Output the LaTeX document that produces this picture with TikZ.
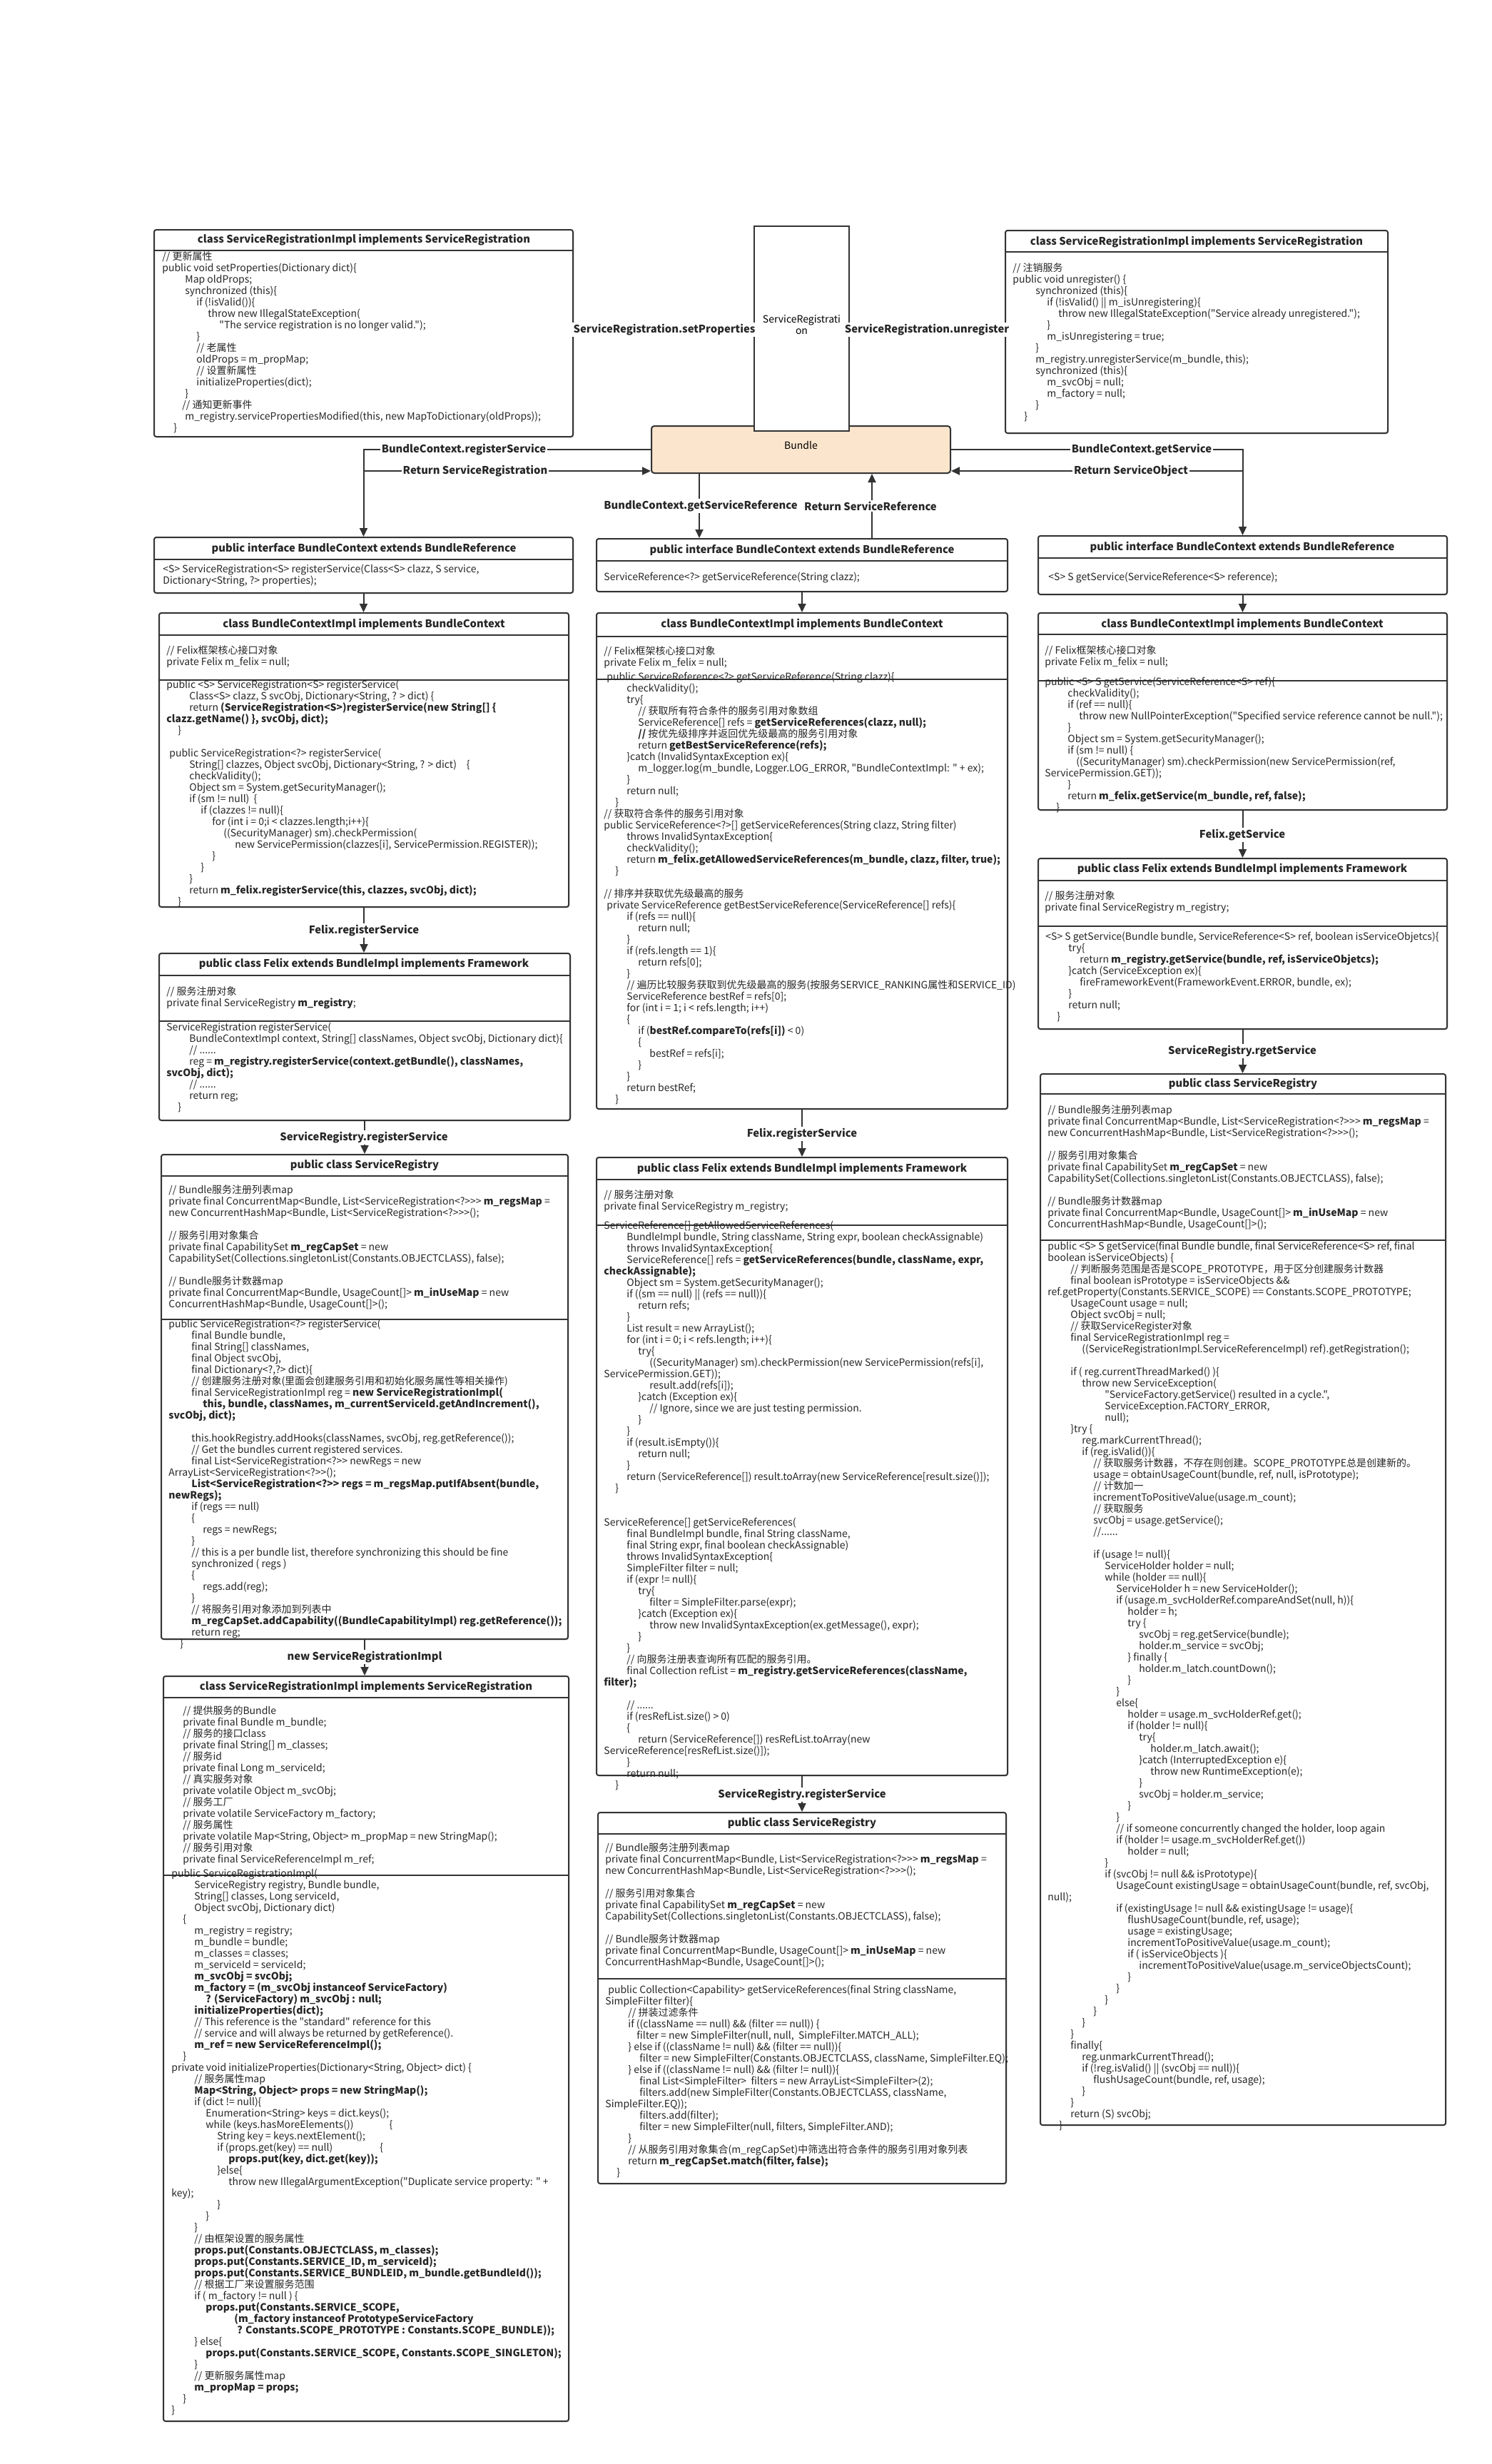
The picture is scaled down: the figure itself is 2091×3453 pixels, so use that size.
\documentclass[tikz,border=0pt]{standalone}
\usepackage{fontspec}
\newfontfamily\cjksans{Noto Sans CJK SC}
\usetikzlibrary{arrows.meta,fit,shadows}
\definecolor{linegray}{HTML}{333333}
\definecolor{bundlefill}{HTML}{FCE5CD}
\newlength{\tabw}
\setlength{\tabw}{8pt}
\newcommand{\tb}[1]{\hspace*{#1\tabw}}
\newcommand{\codefont}{\cjksans\fontsize{7pt}{8pt}\selectfont}
\newcommand{\headfont}{\cjksans\bfseries\fontsize{7.4pt}{8pt}\selectfont}
% frame of a class box: name, left, top, right, bottom, divider rows
\newcommand{\classframe}[6]{%
  \node[classbox, fit={(#2,#3) (#4,#5)}] (#1) {};
  \foreach \dy in {#6} {\draw[divider] (#2,\dy) -- (#4,\dy);}
}
\tikzset{
  classbox/.style={draw=linegray, line width=1pt, fill=white, rounded corners=1.5pt, inner sep=0pt,
    drop shadow={shadow xshift=0.7pt, shadow yshift=-0.7pt, opacity=0.25}},
  divider/.style={draw=linegray, line width=1pt},
  headtext/.style={font=\headfont, text=black!85, inner sep=0pt},
  codetext/.style={font=\codefont, text=black!85, align=left, inner sep=0pt, anchor=north west,
    execute at begin node={\rule{0pt}{7pt}}},
  flowlabel/.style={font=\headfont, text=black!85, fill=white, inner sep=1pt},
  callflow/.style={draw=linegray, line width=1pt, -{Triangle[length=6pt,width=5.5pt]}},
}
\begin{document}
\catcode`\_=12\relax
\begin{tikzpicture}[x=0.5pt, y=-0.5pt]
\fill[white] (0,0) rectangle (2091,3453);
\useasboundingbox (0,0) rectangle (2091,3453);

% ---------- top row ----------
\node[draw=linegray, line width=1pt, fill=bundlefill, rounded corners=2pt, inner sep=0pt,
  fit={(913,597) (1332,663)}, font=\codefont] (bundle) {Bundle};
\node[draw=linegray, line width=1pt, fill=white, inner sep=0pt, fit={(1057,317) (1190,604)},
  font=\codefont, align=center] (srbox) {ServiceRegistrati\\on};

\classframe{tlsr}{216}{322}{803}{612}{351}
\node[headtext] (tlsr-title) at (510,336) {class ServiceRegistrationImpl implements ServiceRegistration};
\node[codetext] (tlsr-body) at (227,352) {// 更新属性\\
public void setProperties(Dictionary dict)\{\\
\tb{2}Map oldProps;\\
\tb{2}synchronized (this)\{\\
\tb{3}if (!isValid())\{\\
\tb{4}throw new IllegalStateException(\\
\tb{5}"The service registration is no longer valid.");\\
\tb{3}\}\\
\tb{3}// 老属性\\
\tb{3}oldProps = m_propMap;\\
\tb{3}// 设置新属性\\
\tb{3}initializeProperties(dict);\\
\tb{2}\}\\
\tb{1.75}// 通知更新事件\\
\tb{2}m_registry.servicePropertiesModified(this, new MapToDictionary(oldProps));\\
\tb{1}\}};

\classframe{trsr}{1409}{323}{1945}{607}{353}
\node[headtext] (trsr-title) at (1677,339) {class ServiceRegistrationImpl implements ServiceRegistration};
\node[codetext] (trsr-body) at (1419,368) {// 注销服务\\
public void unregister() \{\\
\tb{2}synchronized (this)\{\\
\tb{3}if (!isValid() || m_isUnregistering)\{\\
\tb{4}throw new IllegalStateException("Service already unregistered.");\\
\tb{3}\}\\
\tb{3}m_isUnregistering = true;\\
\tb{2}\}\\
\tb{2}m_registry.unregisterService(m_bundle, this);\\
\tb{2}synchronized (this)\{\\
\tb{3}m_svcObj = null;\\
\tb{3}m_factory = null;\\
\tb{2}\}\\
\tb{1}\}};

% ---------- left column: registerService ----------
\classframe{ltif}{216}{753}{803}{831}{784}
\node[headtext] (ltif-title) at (510,769) {public interface BundleContext extends BundleReference};
\node[codetext] (ltif-body) at (228,791) {<S> ServiceRegistration<S> registerService(Class<S> clazz, S service,\\
Dictionary<String, ?> properties);};

\classframe{ltbc}{223}{859}{797}{1271}{890,953}
\node[headtext] (ltbc-title) at (510,875) {class BundleContextImpl implements BundleContext};
\node[codetext] (ltbc-attr) at (233,904) {// Felix框架核心接口对象\\
private Felix m_felix = null;};
\node[codetext] (ltbc-ops) at (233,953) {public <S> ServiceRegistration<S> registerService(\\
\tb{2}Class<S> clazz, S svcObj, Dictionary<String, ? > dict) \{\\
\tb{2}return \textbf{(ServiceRegistration<S>)registerService(new String[] \{}\\
\textbf{clazz.getName() \}, svcObj, dict);}\\
\tb{1}\}\\[8pt]
\tb{0.25}public ServiceRegistration<?> registerService(\\
\tb{2}String[] clazzes, Object svcObj, Dictionary<String, ? > dict)\quad\{\\
\tb{2}checkValidity();\\
\tb{2}Object sm = System.getSecurityManager();\\
\tb{2}if (sm != null)\ \ \{\\
\tb{3}if (clazzes != null)\{\\
\tb{4}for (int i = 0;i < clazzes.length;i++)\{\\
\tb{5}((SecurityManager) sm).checkPermission(\\
\tb{6}new ServicePermission(clazzes[i], ServicePermission.REGISTER));\\
\tb{4}\}\\
\tb{3}\}\\
\tb{2}\}\\
\tb{2}return \textbf{m_felix.registerService(this, clazzes, svcObj, dict);}\\
\tb{1}\}};

\classframe{ltfx}{223}{1336}{799}{1570}{1367,1431}
\node[headtext] (ltfx-title) at (510,1351) {public class Felix extends BundleImpl implements Framework};
\node[codetext] (ltfx-attr) at (233,1382) {// 服务注册对象\\
private final ServiceRegistry \textbf{m_registry};};
\node[codetext] (ltfx-ops) at (233,1433) {ServiceRegistration registerService(\\
\tb{2}BundleContextImpl context, String[] classNames, Object svcObj, Dictionary dict)\{\\
\tb{2}// ......\\
\tb{2}reg = \textbf{m_registry.registerService(context.getBundle(), classNames,}\\
\textbf{svcObj, dict);}\\
\tb{2}// ......\\
\tb{2}return reg;\\
\tb{1}\}};

\classframe{ltsr}{226}{1618}{796}{2297}{1648,1849}
\node[headtext] (ltsr-title) at (511,1633) {public class ServiceRegistry};
\node[codetext] (ltsr-attr) at (236,1660) {// Bundle服务注册列表map\\
private final ConcurrentMap<Bundle, List<ServiceRegistration<?>>> \textbf{m_regsMap} =\\
new ConcurrentHashMap<Bundle, List<ServiceRegistration<?>>>();\\[8pt]
// 服务引用对象集合\\
private final CapabilitySet \textbf{m_regCapSet} = new\\
CapabilitySet(Collections.singletonList(Constants.OBJECTCLASS), false);\\[8pt]
// Bundle服务计数器map\\
private final ConcurrentMap<Bundle, UsageCount[]> \textbf{m_inUseMap} = new\\
ConcurrentHashMap<Bundle, UsageCount[]>();};
\node[codetext] (ltsr-ops) at (236,1849) {public ServiceRegistration<?> registerService(\\
\tb{2}final Bundle bundle,\\
\tb{2}final String[] classNames,\\
\tb{2}final Object svcObj,\\
\tb{2}final Dictionary<?,?> dict)\{\\
\tb{2}// 创建服务注册对象(里面会创建服务引用和初始化服务属性等相关操作)\\
\tb{2}final ServiceRegistrationImpl reg = \textbf{new ServiceRegistrationImpl(}\\
\tb{3}\textbf{this, bundle, classNames, m_currentServiceId.getAndIncrement(),}\\
\textbf{svcObj, dict);}\\[8pt]
\tb{2}this.hookRegistry.addHooks(classNames, svcObj, reg.getReference());\\
\tb{2}// Get the bundles current registered services.\\
\tb{2}final List<ServiceRegistration<?>> newRegs = new\\
ArrayList<ServiceRegistration<?>>();\\
\tb{2}\textbf{List<ServiceRegistration<?>> regs = m_regsMap.putIfAbsent(bundle,}\\
\textbf{newRegs);}\\
\tb{2}if (regs == null)\\
\tb{2}\{\\
\tb{3}regs = newRegs;\\
\tb{2}\}\\
\tb{2}// this is a per bundle list, therefore synchronizing this should be fine\\
\tb{2}synchronized ( regs )\\
\tb{2}\{\\
\tb{3}regs.add(reg);\\
\tb{2}\}\\
\tb{2}// 将服务引用对象添加到列表中\\
\tb{2}\textbf{m_regCapSet.addCapability((BundleCapabilityImpl) reg.getReference());}\\
\tb{2}return reg;\\
\tb{1}\}};

\classframe{ltri}{229}{2349}{797}{3393}{2379,2628}
\node[headtext] (ltri-title) at (513,2364) {class ServiceRegistrationImpl implements ServiceRegistration};
\node[codetext] (ltri-attr) at (256,2390) {// 提供服务的Bundle\\
private final Bundle m_bundle;\\
// 服务的接口class\\
private final String[] m_classes;\\
// 服务id\\
private final Long m_serviceId;\\
// 真实服务对象\\
private volatile Object m_svcObj;\\
// 服务工厂\\
private volatile ServiceFactory m_factory;\\
// 服务属性\\
private volatile Map<String, Object> m_propMap = new StringMap();\\
// 服务引用对象\\
private final ServiceReferenceImpl m_ref;};
\node[codetext] (ltri-ops) at (240,2619) {public ServiceRegistrationImpl(\\
\tb{2}ServiceRegistry registry, Bundle bundle,\\
\tb{2}String[] classes, Long serviceId,\\
\tb{2}Object svcObj, Dictionary dict)\\
\tb{1}\{\\
\tb{2}m_registry = registry;\\
\tb{2}m_bundle = bundle;\\
\tb{2}m_classes = classes;\\
\tb{2}m_serviceId = serviceId;\\
\tb{2}\textbf{m_svcObj = svcObj;}\\
\tb{2}\textbf{m_factory = (m_svcObj instanceof ServiceFactory)}\\
\tb{3}\textbf{? (ServiceFactory) m_svcObj : null;}\\
\tb{2}\textbf{initializeProperties(dict);}\\
\tb{2}// This reference is the "standard" reference for this\\
\tb{2}// service and will always be returned by getReference().\\
\tb{2}\textbf{m_ref = new ServiceReferenceImpl();}\\
\tb{1}\}\\
private void initializeProperties(Dictionary<String, Object> dict) \{\\
\tb{2}// 服务属性map\\
\tb{2}\textbf{Map<String, Object> props = new StringMap();}\\
\tb{2}if (dict != null)\{\\
\tb{3}Enumeration<String> keys = dict.keys();\\
\tb{3}while (keys.hasMoreElements())\hspace{25pt}\{\\
\tb{4}String key = keys.nextElement();\\
\tb{4}if (props.get(key) == null)\hspace{33pt}\{\\
\tb{5}\textbf{props.put(key, dict.get(key));}\\
\tb{4}\}else\{\\
\tb{5}throw new IllegalArgumentException("Duplicate service property: " +\\
key);\\
\tb{4}\}\\
\tb{3}\}\\
\tb{2}\}\\
\tb{2}// 由框架设置的服务属性\\
\tb{2}\textbf{props.put(Constants.OBJECTCLASS, m_classes);}\\
\tb{2}\textbf{props.put(Constants.SERVICE_ID, m_serviceId);}\\
\tb{2}\textbf{props.put(Constants.SERVICE_BUNDLEID, m_bundle.getBundleId());}\\
\tb{2}// 根据工厂来设置服务范围\\
\tb{2}if ( m_factory != null ) \{\\
\tb{3}\textbf{props.put(Constants.SERVICE_SCOPE,}\\
\tb{5.5}\textbf{(m_factory instanceof PrototypeServiceFactory}\\
\tb{5.75}\textbf{? Constants.SCOPE_PROTOTYPE : Constants.SCOPE_BUNDLE));}\\
\tb{2}\} else\{\\
\tb{3}\textbf{props.put(Constants.SERVICE_SCOPE, Constants.SCOPE_SINGLETON);}\\
\tb{2}\}\\
\tb{2}// 更新服务属性map\\
\tb{2}\textbf{m_propMap = props;}\\
\tb{1}\}\\
\}};

% ---------- middle column: getServiceReference ----------
\classframe{mdif}{836}{755}{1412}{829}{786}
\node[headtext] (mdif-title) at (1124,771) {public interface BundleContext extends BundleReference};
\node[codetext] (mdif-body) at (846,799) {ServiceReference<?> getServiceReference(String clazz);};

\classframe{mdbc}{836}{859}{1412}{1554}{892,952}
\node[headtext] (mdbc-title) at (1124,875) {class BundleContextImpl implements BundleContext};
\node[codetext] (mdbc-attr) at (846,905) {// Felix框架核心接口对象\\
private Felix m_felix = null;};
\node[codetext] (mdbc-ops) at (846,942) {\tb{0.25}public ServiceReference<?> getServiceReference(String clazz)\{\\
\tb{2}checkValidity();\\
\tb{2}try\{\\
\tb{3}// 获取所有符合条件的服务引用对象数组\\
\tb{3}ServiceReference[] refs = \textbf{getServiceReferences(clazz, null);}\\
\tb{3}\textbf{//} 按优先级排序并返回优先级最高的服务引用对象\\
\tb{3}return \textbf{getBestServiceReference(refs);}\\
\tb{2}\}catch (InvalidSyntaxException ex)\{\\
\tb{3}m_logger.log(m_bundle, Logger.LOG_ERROR, "BundleContextImpl: " + ex);\\
\tb{2}\}\\
\tb{2}return null;\\
\tb{1}\}\\
// 获取符合条件的服务引用对象\\
public ServiceReference<?>[] getServiceReferences(String clazz, String filter)\\
\tb{2}throws InvalidSyntaxException\{\\
\tb{2}checkValidity();\\
\tb{2}return \textbf{m_felix.getAllowedServiceReferences(m_bundle, clazz, filter, true);}\\
\tb{1}\}\\[8pt]
// 排序并获取优先级最高的服务\\
\tb{0.25}private ServiceReference getBestServiceReference(ServiceReference[] refs)\{\\
\tb{2}if (refs == null)\{\\
\tb{3}return null;\\
\tb{2}\}\\
\tb{2}if (refs.length == 1)\{\\
\tb{3}return refs[0];\\
\tb{2}\}\\
\tb{2}// 遍历比较服务获取到优先级最高的服务(按服务SERVICE_RANKING属性和SERVICE_ID)\\
\tb{2}ServiceReference bestRef = refs[0];\\
\tb{2}for (int i = 1; i < refs.length; i++)\\
\tb{2}\{\\
\tb{3}if (\textbf{bestRef.compareTo(refs[i])} < 0)\\
\tb{3}\{\\
\tb{4}bestRef = refs[i];\\
\tb{3}\}\\
\tb{2}\}\\
\tb{2}return bestRef;\\
\tb{1}\}};

\classframe{mdfx}{836}{1622}{1412}{2488}{1653,1717}
\node[headtext] (mdfx-title) at (1124,1638) {public class Felix extends BundleImpl implements Framework};
\node[codetext] (mdfx-attr) at (846,1667) {// 服务注册对象\\
private final ServiceRegistry m_registry;};
\node[codetext] (mdfx-ops) at (846,1711) {ServiceReference[] getAllowedServiceReferences(\\
\tb{2}BundleImpl bundle, String className, String expr, boolean checkAssignable)\\
\tb{2}throws InvalidSyntaxException\{\\
\tb{2}ServiceReference[] refs = \textbf{getServiceReferences(bundle, className, expr,}\\
\textbf{checkAssignable);}\\
\tb{2}Object sm = System.getSecurityManager();\\
\tb{2}if ((sm == null) || (refs == null))\{\\
\tb{3}return refs;\\
\tb{2}\}\\
\tb{2}List result = new ArrayList();\\
\tb{2}for (int i = 0; i < refs.length; i++)\{\\
\tb{3}try\{\\
\tb{4}((SecurityManager) sm).checkPermission(new ServicePermission(refs[i],\\
ServicePermission.GET));\\
\tb{4}result.add(refs[i]);\\
\tb{3}\}catch (Exception ex)\{\\
\tb{4}// Ignore, since we are just testing permission.\\
\tb{3}\}\\
\tb{2}\}\\
\tb{2}if (result.isEmpty())\{\\
\tb{3}return null;\\
\tb{2}\}\\
\tb{2}return (ServiceReference[]) result.toArray(new ServiceReference[result.size()]);\\
\tb{1}\}\\[16pt]
ServiceReference[] getServiceReferences(\\
\tb{2}final BundleImpl bundle, final String className,\\
\tb{2}final String expr, final boolean checkAssignable)\\
\tb{2}throws InvalidSyntaxException\{\\
\tb{2}SimpleFilter filter = null;\\
\tb{2}if (expr != null)\{\\
\tb{3}try\{\\
\tb{4}filter = SimpleFilter.parse(expr);\\
\tb{3}\}catch (Exception ex)\{\\
\tb{4}throw new InvalidSyntaxException(ex.getMessage(), expr);\\
\tb{3}\}\\
\tb{2}\}\\
\tb{2}// 向服务注册表查询所有匹配的服务引用。\\
\tb{2}final Collection refList = \textbf{m_registry.getServiceReferences(className,}\\
\textbf{filter);}\\[8pt]
\tb{2}// ......\\
\tb{2}if (resRefList.size() > 0)\\
\tb{2}\{\\
\tb{3}return (ServiceReference[]) resRefList.toArray(new\\
ServiceReference[resRefList.size()]);\\
\tb{2}\}\\
\tb{2}return null;\\
\tb{1}\}};

\classframe{mdsr}{838}{2540}{1410}{3060}{2570,2773}
\node[headtext] (mdsr-title) at (1124,2555) {public class ServiceRegistry};
\node[codetext] (mdsr-attr) at (848,2582) {// Bundle服务注册列表map\\
private final ConcurrentMap<Bundle, List<ServiceRegistration<?>>> \textbf{m_regsMap} =\\
new ConcurrentHashMap<Bundle, List<ServiceRegistration<?>>>();\\[8pt]
// 服务引用对象集合\\
private final CapabilitySet \textbf{m_regCapSet} = new\\
CapabilitySet(Collections.singletonList(Constants.OBJECTCLASS), false);\\[8pt]
// Bundle服务计数器map\\
private final ConcurrentMap<Bundle, UsageCount[]> \textbf{m_inUseMap} = new\\
ConcurrentHashMap<Bundle, UsageCount[]>();};
\node[codetext] (mdsr-ops) at (848,2782) {\tb{0.25}public Collection<Capability> getServiceReferences(final String className,\\
SimpleFilter filter)\{\\
\tb{2}// 拼装过滤条件\\
\tb{2}if ((className == null) \&\& (filter == null)) \{\\
\tb{2.75}filter = new SimpleFilter(null, null,\ \ SimpleFilter.MATCH_ALL);\\
\tb{2}\} else if ((className != null) \&\& (filter == null))\{\\
\tb{3}filter = new SimpleFilter(Constants.OBJECTCLASS, className, SimpleFilter.EQ);\\
\tb{2}\} else if ((className != null) \&\& (filter != null))\{\\
\tb{3}final List<SimpleFilter>\ \ filters = new ArrayList<SimpleFilter>(2);\\
\tb{3}filters.add(new SimpleFilter(Constants.OBJECTCLASS, className,\\
SimpleFilter.EQ));\\
\tb{3}filters.add(filter);\\
\tb{3}filter = new SimpleFilter(null, filters, SimpleFilter.AND);\\
\tb{2}\}\\
\tb{2}// 从服务引用对象集合(m_regCapSet)中筛选出符合条件的服务引用对象列表\\
\tb{2}return \textbf{m_regCapSet.match(filter, false);}\\
\tb{1}\}};

% ---------- right column: getService ----------
\classframe{rtif}{1455}{751}{2028}{833}{782}
\node[headtext] (rtif-title) at (1741,767) {public interface BundleContext extends BundleReference};
\node[codetext] (rtif-body) at (1465,799) {\tb{0.25}<S> S getService(ServiceReference<S> reference);};

\classframe{rtbc}{1455}{859}{2028}{1135}{889,954}
\node[headtext] (rtbc-title) at (1741,875) {class BundleContextImpl implements BundleContext};
\node[codetext] (rtbc-attr) at (1464,904) {// Felix框架核心接口对象\\
private Felix m_felix = null;};
\node[codetext] (rtbc-ops) at (1464,949) {public <S> S getService(ServiceReference<S> ref)\{\\
\tb{2}checkValidity();\\
\tb{2}if (ref == null)\{\\
\tb{3}throw new NullPointerException("Specified service reference cannot be null.");\\
\tb{2}\}\\
\tb{2}Object sm = System.getSecurityManager();\\
\tb{2}if (sm != null) \{\\
\tb{2.75}((SecurityManager) sm).checkPermission(new ServicePermission(ref,\\
ServicePermission.GET));\\
\tb{2}\}\\
\tb{2}return \textbf{m_felix.getService(m_bundle, ref, false);}\\
\tb{1}\}};

\classframe{rtfx}{1455}{1203}{2028}{1442}{1234,1298}
\node[headtext] (rtfx-title) at (1741,1218) {public class Felix extends BundleImpl implements Framework};
\node[codetext] (rtfx-attr) at (1464,1248) {// 服务注册对象\\
private final ServiceRegistry m_registry;};
\node[codetext] (rtfx-ops) at (1465,1306) {<S> S getService(Bundle bundle, ServiceReference<S> ref, boolean isServiceObjetcs)\{\\
\tb{2}try\{\\
\tb{3}return \textbf{m_registry.getService(bundle, ref, isServiceObjetcs);}\\
\tb{2}\}catch (ServiceException ex)\{\\
\tb{3}fireFrameworkEvent(FrameworkEvent.ERROR, bundle, ex);\\
\tb{2}\}\\
\tb{2}return null;\\
\tb{1}\}};

\classframe{rtsr}{1458}{1505}{2026}{2978}{1533,1738}
\node[headtext] (rtsr-title) at (1742,1519) {public class ServiceRegistry};
\node[codetext] (rtsr-attr) at (1468,1548) {// Bundle服务注册列表map\\
private final ConcurrentMap<Bundle, List<ServiceRegistration<?>>> \textbf{m_regsMap} =\\
new ConcurrentHashMap<Bundle, List<ServiceRegistration<?>>>();\\[8pt]
// 服务引用对象集合\\
private final CapabilitySet \textbf{m_regCapSet} = new\\
CapabilitySet(Collections.singletonList(Constants.OBJECTCLASS), false);\\[8pt]
// Bundle服务计数器map\\
private final ConcurrentMap<Bundle, UsageCount[]> \textbf{m_inUseMap} = new\\
ConcurrentHashMap<Bundle, UsageCount[]>();};
\node[codetext] (rtsr-ops) at (1468,1740) {public <S> S getService(final Bundle bundle, final ServiceReference<S> ref, final\\
boolean isServiceObjects) \{\\
\tb{2}// 判断服务范围是否是SCOPE_PROTOTYPE，用于区分创建服务计数器\\
\tb{2}final boolean isPrototype = isServiceObjects \&\&\\
ref.getProperty(Constants.SERVICE_SCOPE) == Constants.SCOPE_PROTOTYPE;\\
\tb{2}UsageCount usage = null;\\
\tb{2}Object svcObj = null;\\
\tb{2}// 获取ServiceRegister对象\\
\tb{2}final ServiceRegistrationImpl reg =\\
\tb{3}((ServiceRegistrationImpl.ServiceReferenceImpl) ref).getRegistration();\\[8pt]
\tb{2}if ( reg.currentThreadMarked() )\{\\
\tb{3}throw new ServiceException(\\
\tb{5}"ServiceFactory.getService() resulted in a cycle.",\\
\tb{5}ServiceException.FACTORY_ERROR,\\
\tb{5}null);\\
\tb{2}\}try \{\\
\tb{3}reg.markCurrentThread();\\
\tb{3}if (reg.isValid())\{\\
\tb{4}// 获取服务计数器，不存在则创建。SCOPE_PROTOTYPE总是创建新的。\\
\tb{4}usage = obtainUsageCount(bundle, ref, null, isPrototype);\\
\tb{4}// 计数加一\\
\tb{4}incrementToPositiveValue(usage.m_count);\\
\tb{4}// 获取服务\\
\tb{4}svcObj = usage.getService();\\
\tb{4}//......\\[8pt]
\tb{4}if (usage != null)\{\\
\tb{5}ServiceHolder holder = null;\\
\tb{5}while (holder == null)\{\\
\tb{6}ServiceHolder h = new ServiceHolder();\\
\tb{6}if (usage.m_svcHolderRef.compareAndSet(null, h))\{\\
\tb{7}holder = h;\\
\tb{7}try \{\\
\tb{8}svcObj = reg.getService(bundle);\\
\tb{8}holder.m_service = svcObj;\\
\tb{7}\} finally \{\\
\tb{8}holder.m_latch.countDown();\\
\tb{7}\}\\
\tb{6}\}\\
\tb{6}else\{\\
\tb{7}holder = usage.m_svcHolderRef.get();\\
\tb{7}if (holder != null)\{\\
\tb{8}try\{\\
\tb{9}holder.m_latch.await();\\
\tb{8}\}catch (InterruptedException e)\{\\
\tb{9}throw new RuntimeException(e);\\
\tb{8}\}\\
\tb{8}svcObj = holder.m_service;\\
\tb{7}\}\\
\tb{6}\}\\
\tb{6}// if someone concurrently changed the holder, loop again\\
\tb{6}if (holder != usage.m_svcHolderRef.get())\\
\tb{7}holder = null;\\
\tb{5}\}\\
\tb{5}if (svcObj != null \&\& isPrototype)\{\\
\tb{6}UsageCount existingUsage = obtainUsageCount(bundle, ref, svcObj,\\
null);\\
\tb{6}if (existingUsage != null \&\& existingUsage != usage)\{\\
\tb{7}flushUsageCount(bundle, ref, usage);\\
\tb{7}usage = existingUsage;\\
\tb{7}incrementToPositiveValue(usage.m_count);\\
\tb{7}if ( isServiceObjects )\{\\
\tb{8}incrementToPositiveValue(usage.m_serviceObjectsCount);\\
\tb{7}\}\\
\tb{6}\}\\
\tb{5}\}\\
\tb{4}\}\\
\tb{3}\}\\
\tb{2}\}\\
\tb{2}finally\{\\
\tb{3}reg.unmarkCurrentThread();\\
\tb{3}if (!reg.isValid() || (svcObj == null))\{\\
\tb{4}flushUsageCount(bundle, ref, usage);\\
\tb{3}\}\\
\tb{2}\}\\
\tb{2}return (S) svcObj;\\
\tb{1}\}};

% ---------- connectors ----------
\coordinate (yprop) at (0,462);
\coordinate (yret) at (0,660);
\coordinate (xgetref) at (980,0);
\coordinate (xretref) at (1222,0);

\draw[callflow] (srbox.west |- yprop) -- (tlsr.east |- yprop);
\draw[callflow] (srbox.east |- yprop) -- (trsr.west |- yprop);
\draw[callflow] (bundle.west) -| (ltif.north);
\draw[callflow] (ltif.north |- yret) -- (bundle.west |- yret);
\draw[callflow] (bundle.east) -| (rtif.north);
\draw[callflow] (rtif.north |- yret) -- (bundle.east |- yret);
\draw[callflow] (bundle.south -| xgetref) -- (mdif.north -| xgetref);
\draw[callflow] (mdif.north -| xretref) -- (bundle.south -| xretref);

\draw[callflow] (ltif.south) -- (ltif.south |- ltbc.north);
\draw[callflow] (ltbc.south) -- (ltbc.south |- ltfx.north);
\draw[callflow] (ltfx.south) -- (ltfx.south |- ltsr.north);
\draw[callflow] (ltsr.south) -- (ltsr.south |- ltri.north);
\draw[callflow] (mdif.south) -- (mdif.south |- mdbc.north);
\draw[callflow] (mdbc.south) -- (mdbc.south |- mdfx.north);
\draw[callflow] (mdfx.south) -- (mdfx.south |- mdsr.north);
\draw[callflow] (rtif.south) -- (rtif.south |- rtbc.north);
\draw[callflow] (rtbc.south) -- (rtbc.south |- rtfx.north);
\draw[callflow] (rtfx.south) -- (rtfx.south |- rtsr.north);

% ---------- connector labels ----------
\node[flowlabel] (lb-setprop) at (931,462) {ServiceRegistration.setProperties};
\node[flowlabel] (lb-unreg) at (1299,462) {ServiceRegistration.unregister};
\node[flowlabel] (lb-regsvc) at (650,630) {BundleContext.registerService};
\node[flowlabel] (lb-retreg) at (666,660) {Return ServiceRegistration};
\node[flowlabel] (lb-getsvc) at (1600,630) {BundleContext.getService};
\node[flowlabel] (lb-retobj) at (1585,660) {Return ServiceObject};
\node[flowlabel] (lb-getref) at (982,709) {BundleContext.getServiceReference};
\node[flowlabel] (lb-retref) at (1220,709) {Return ServiceReference};
\node[flowlabel] (lb-ltfelix) at (510,1304) {Felix.registerService};
\node[flowlabel] (lb-ltreg) at (510,1594) {ServiceRegistry.registerService};
\node[flowlabel] (lb-ltnew) at (511,2322) {new ServiceRegistrationImpl};
\node[flowlabel] (lb-mdfelix) at (1124,1589) {Felix.registerService};
\node[flowlabel] (lb-mdreg) at (1124,2515) {ServiceRegistry.registerService};
\node[flowlabel] (lb-rtfelix) at (1741,1170) {Felix.getService};
\node[flowlabel] (lb-rtreg) at (1741,1473) {ServiceRegistry.rgetService};
\end{tikzpicture}
\end{document}
